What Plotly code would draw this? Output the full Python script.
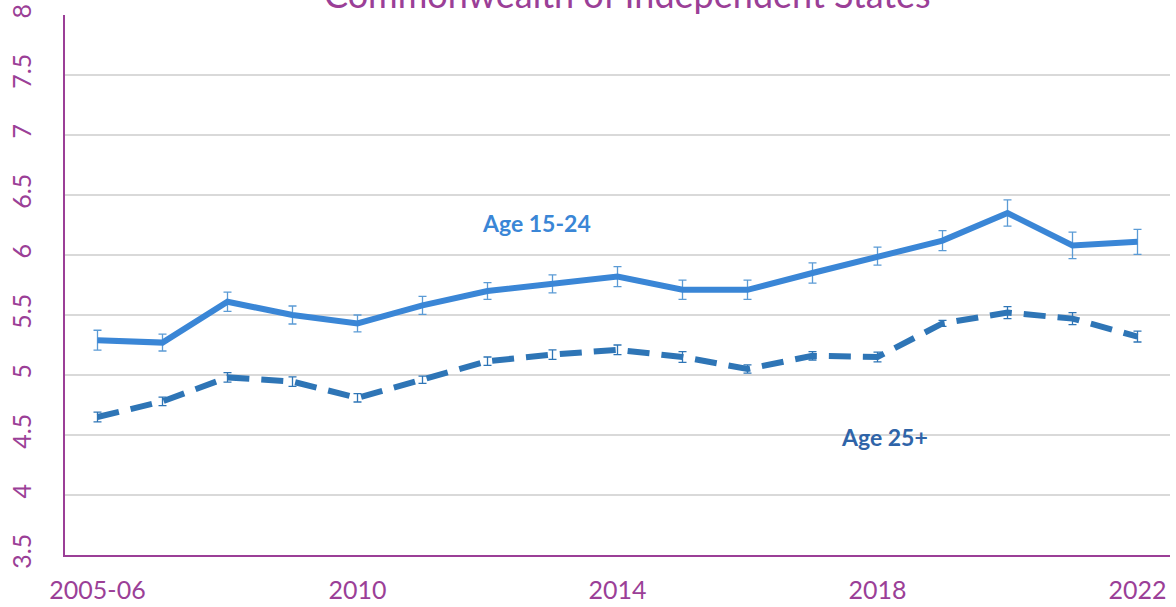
import plotly.graph_objects as go

years = ["2005-06", "2007", "2008", "2009", "2010", "2011", "2012", "2013", "2014",
         "2015", "2016", "2017", "2018", "2019", "2020", "2021", "2022"]
tick_labels = ["2005-06", "2010", "2014", "2018", "2022"]
tick_index = [0, 4, 8, 12, 16]

age_15_24 = [5.29, 5.27, 5.61, 5.50, 5.43, 5.58, 5.70, 5.76, 5.82, 5.71, 5.71, 5.85,
             5.99, 6.12, 6.35, 6.08, 6.11]
err_15_24 = [0.083, 0.07, 0.08, 0.075, 0.07, 0.075, 0.07, 0.075, 0.083, 0.08, 0.08, 0.085,
             0.075, 0.083, 0.11, 0.11, 0.104]

age_25p = [4.65, 4.78, 4.98, 4.945, 4.81, 4.96, 5.115, 5.17, 5.21, 5.15, 5.05, 5.16,
           5.15, 5.43, 5.52, 5.47, 5.32]
err_25p = [0.04, 0.035, 0.04, 0.04, 0.035, 0.03, 0.035, 0.04, 0.04, 0.045, 0.035, 0.035,
           0.04, 0.025, 0.05, 0.05, 0.045]

purple = "#9B3F97"
font = "Lato"
x = list(range(len(years)))

fig = go.Figure()
fig.add_trace(go.Scatter(
    x=x, y=age_15_24, mode="lines", name="Age 15-24",
    line=dict(color="#3A86D6", width=6),
    error_y=dict(type="data", array=err_15_24, visible=True,
                 color="#5B9BD5", thickness=1.3, width=4),
))
fig.add_trace(go.Scatter(
    x=x, y=age_25p, mode="lines", name="Age 25+",
    line=dict(color="#2E75B6", width=6, dash="22px,12px"),
    error_y=dict(type="data", array=err_25p, visible=True,
                 color="#2E75B6", thickness=1.3, width=4),
))

fig.update_layout(
    width=1176, height=607,
    margin=dict(l=65, r=6, t=15, b=52, autoexpand=False),
    paper_bgcolor="white", plot_bgcolor="white",
    showlegend=False,
    font=dict(family=font, color=purple),
    xaxis=dict(
        range=[-0.5, 16.5], tickmode="array", tickvals=tick_index, ticktext=tick_labels,
        showgrid=False, showline=True, linecolor=purple, linewidth=2,
        ticks="", tickfont=dict(size=25, color=purple, family=font),
        ticklabelstandoff=12, zeroline=False, automargin=False,
    ),
    yaxis=dict(
        range=[3.5, 8], dtick=0.5, tick0=3.5,
        showgrid=True, gridcolor="#D9D9D9", gridwidth=2,
        showline=True, linecolor=purple, linewidth=2,
        ticks="", tickangle=-90, tickfont=dict(size=25, color=purple, family=font),
        ticklabelstandoff=22, zeroline=False, automargin=False,
    ),
    annotations=[
        dict(text="Commonwealth of Independent States", xref="paper", yref="paper",
             x=0.5086, y=0.994, xanchor="center", yanchor="bottom", showarrow=False,
             font=dict(size=36, color=purple, family=font)),
        dict(text="<b>Age 15-24</b>", xref="x", yref="y", x=6.76, y=6.27,
             showarrow=False, font=dict(size=23, color="#3A86D6", family=font)),
        dict(text="<b>Age 25+</b>", xref="x", yref="y", x=12.1, y=4.485,
             showarrow=False, font=dict(size=23, color="#2F64A8", family=font)),
    ],
)

fig.write_html(
    "out.html",
    config={"displayModeBar": False},
    post_script="document.body.style.margin='0';document.body.style.padding='0';"
                "document.documentElement.style.overflow='hidden';",
)
